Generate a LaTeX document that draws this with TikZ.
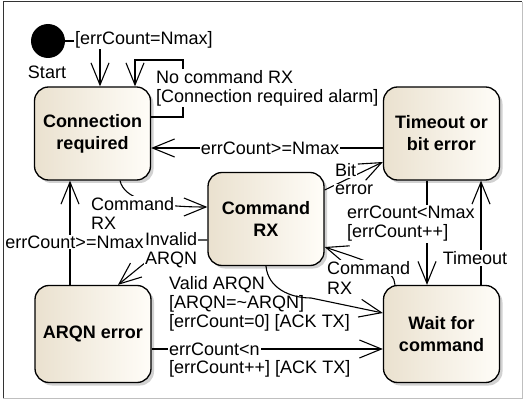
\documentclass[tikz,border=0pt]{standalone}
\usepackage{fontspec}
\setmainfont{Liberation Sans}
\usetikzlibrary{arrows.meta,shadows}

\definecolor{stateleft}{RGB}{234,225,207}
\definecolor{stateright}{RGB}{255,253,248}

\begin{document}
\begin{tikzpicture}[x=1pt, y=-1pt,
		state/.style={draw, line width=1.3pt, rounded corners=14pt, minimum width=116pt, minimum height=93pt,
			left color=stateleft, right color=stateright, align=center, font=\fontsize{18}{22}\selectfont\bfseries,
			drop shadow={shadow xshift=3pt, shadow yshift=-3pt, fill=black!30, opacity=0.6}},
		trans/.style={line width=1.1pt, -{Straight Barb[length=22pt, width=18pt, line width=1.1pt]}},
		lbl/.style={font=\fontsize{18}{19}\selectfont, inner sep=1pt, align=left}]

			\useasboundingbox (0,0) rectangle (525,401);

			% Draw the frame
			\draw[black!80, line width=1pt] (3,398) -- (3,2) -- (522,2);
			\draw[black!25, line width=1pt] (522,2) -- (522,398) -- (3,398);

			% Draw the states
			\node[circle, fill=black, minimum size=34pt, inner sep=0pt] (start) at (48,41) {};
			\node[lbl] (startlbl) at (47,72) {Start};

			\node[state] (conn) at (92.5,133.5) {Connection\\required};
			\node[state] (tmo) at (441.5,133.5) {Timeout or\\bit error};
			\node[state] (cmd) at (266,219) {Command\\RX};
			\node[state, minimum height=97pt] (arqn) at (93,334) {ARQN error};
			\node[state, minimum height=97pt] (wait) at (441.5,334) {Wait for\\command};

			% Draw the transitions out of the start and connection states
			\draw[trans] (start) -| (conn.north -| 100,0);
			\node[lbl, fill=white, anchor=west] (lblstart) at (74,40) {[errCount=Nmax]};

			\draw[trans] (conn.east |- 0,117) -| (183,60) -| (conn.north -| 135,0);
			\node[lbl, fill=white, anchor=west] (lblloop) at (155,88) {No command RX\\{}[Connection required alarm]};

			\draw[trans] (conn.south -| 120,0) .. controls (124,198) and (150,207) .. (cmd.west |- 0,207);
			\node[lbl, fill=white, anchor=west] (lblconncmd) at (90,213) {Command\\RX};

			% Draw the transitions back to connection required
			\draw[trans] (tmo.west |- 0,148) -- (conn.east |- 0,148);
			\node[lbl, fill=white] (lbltmoconn) at (270,148) {errCount>=Nmax};

			\draw[trans] (arqn.north -| 70,0) -- (conn.south -| 70,0);
			\node[lbl, fill=white] (lblarqnconn) at (74.5,242) {errCount>=Nmax};

			% Draw the transitions out of command RX
			\draw[trans] (cmd.west |- 0,240) -- (173,240) -- (arqn.north -| 118,0);
			\node[lbl, fill=white, anchor=west] (lblinvalid) at (144,250) {Invalid\\ARQN};

			\draw[trans] (cmd.east |- 0,190) -- (tmo.west |- 0,162);
			\node[lbl, fill=white, anchor=west] (lblbit) at (334,170) {Bit};
			\node[lbl, fill=white, anchor=west] (lblbiterr) at (334,190) {error};

			\draw[trans] (cmd.south -| 266,0) .. controls (268,288) and (290,298) .. (311,298) -- (wait.west |- 0,313);
			\node[lbl, anchor=west] (lblvalid) at (168,304) {Valid ARQN\\{}[ARQN=\textasciitilde ARQN]\\{}[errCount=0] [ACK TX]};

			% Draw the transitions between timeout and wait
			\draw[trans] (tmo.south -| 427,0) -- (wait.north -| 427,0);
			\node[lbl, fill=white, anchor=west] (lbltmowait) at (346,224) {errCount<Nmax\\{}[errCount++]};

			\draw[trans] (wait.north -| 481,0) -- (tmo.south -| 481,0);
			\node[lbl, fill=white] (lbltimeout) at (475,258) {Timeout};

			\draw[trans] (wait.north -| 395,0) .. controls (395,270) and (370,262) .. (cmd.east |- 0,247);
			\node[lbl, fill=white, anchor=west] (lblwaitcmd) at (326,268) {Command};
			\node[lbl, fill=white, anchor=west] (lblwaitrx) at (326,288) {RX};

			% Draw the transition from ARQN error to wait
			\draw[trans] (arqn.east |- 0,349) -- (wait.west |- 0,349);
			\node[lbl, fill=white, anchor=west] (lblless) at (168,349) {errCount<n};
			\node[lbl, inner sep=0pt, anchor=west] (lbllessack) at (169,369) {[errCount++] [ACK TX]};

\end{tikzpicture}
\end{document}
